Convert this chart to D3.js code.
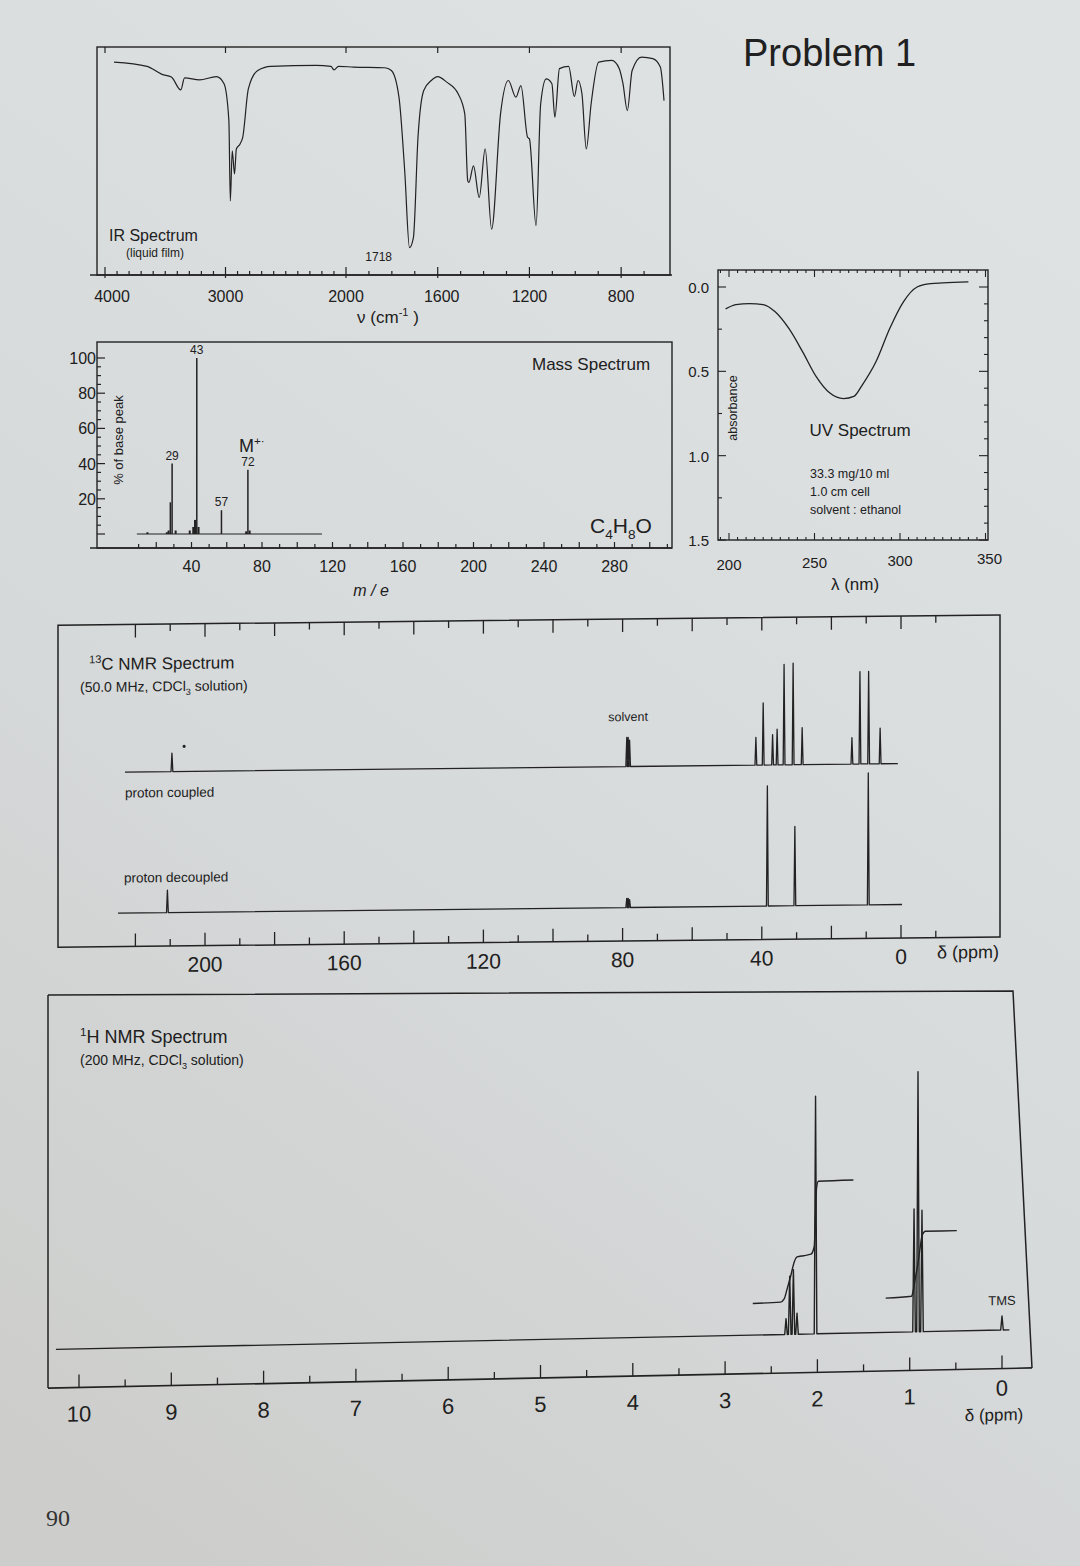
<!DOCTYPE html>
<html>
<head>
<meta charset="utf-8">
<script src="https://cdnjs.cloudflare.com/ajax/libs/d3/7.8.5/d3.min.js"></script>
<style>
  body { margin: 0; background: #d8dbdc; }
  svg { display: block; }
  text { font-family: "Liberation Sans", Arial, sans-serif; fill: #202020; }
</style>
</head>
<body>
<svg id="page"></svg>
<script>
// ---- IR spectrum (wavenumber cm-1, % transmittance)
const irWave = [3925, 3651, 3527, 3449, 3371, 3340, 3215, 3075, 3012, 2972, 2960, 2944, 2925, 2910, 2879, 2857,
  2810, 2732, 2623, 2249, 2125, 2100, 2062, 1967, 1831, 1802, 1769, 1744, 1723, 1706, 1686, 1661, 1628, 1600,
  1561, 1511, 1482, 1469, 1464, 1444, 1419, 1393, 1365, 1326, 1292, 1259, 1237, 1208, 1200, 1171, 1151, 1127,
  1102, 1089, 1069, 1029, 1004, 988, 971, 952, 931, 898, 841, 808, 792, 773, 752, 711, 662, 629, 613];
const irTrans = [93.4, 91.5, 88, 86.8, 81.2, 86.5, 85.6, 87, 83.9, 67.7, 32.5, 54.5, 44.3, 55.3, 57.5, 60.4,
  81.7, 89.7, 91.5, 91.9, 91.5, 90, 91.5, 91.2, 90.9, 89.7, 78, 45.7, 12, 16.4, 60.4, 80.9, 85.3, 87,
  84.6, 79.5, 70.7, 41.3, 40.6, 47.9, 34, 55.3, 20.1, 70.7, 85.3, 78, 83.1, 60.4, 59.7, 21.6, 75, 86,
  83.9, 69.2, 90.5, 91.5, 78.3, 85.3, 79.5, 55.3, 75, 93.4, 94.1, 90.5, 83.9, 72.1, 89.7, 95.6, 94.9, 91.2, 76.5];
const irMajor = [4000, 3000, 2000, 1600, 1200, 800];

// ---- Mass spectrum (m/e, % of base peak)
const msMass = [15, 26, 27, 28, 29, 31, 39, 41, 42, 43, 44, 57, 71, 72, 73];
const msAbund = [1, 1, 2, 18, 40, 2, 2, 4, 8, 100, 4, 13.5, 1.5, 36.5, 2];
const msLabelled = [29, 43, 57, 72];
const msTicks = [40, 80, 120, 160, 200, 240, 280];
const msRange = [9, 114];

// ---- UV spectrum (nm, absorbance)
const uvNm = [198, 204, 212, 220, 227, 235, 243, 251, 259, 267, 273, 278, 286, 294, 302, 310, 318, 325, 340];
const uvAbs = [0.13, 0.105, 0.098, 0.104, 0.147, 0.246, 0.383, 0.531, 0.629, 0.662, 0.649, 0.58, 0.442,
  0.246, 0.088, 0.0, -0.02, -0.024, -0.03];
const uvTicks = [200, 250, 300, 350];
const uvAbsTicks = [0, 0.5, 1.0, 1.5];

// ---- 13C NMR (ppm, relative height)
const cCoupledPpm = [209.5, 78.8, 78.4, 78.0, 41.7, 39.6, 36.9, 35.6, 33.6, 31.0, 28.4, 14.1, 11.8, 9.3, 6.0];
const cCoupledInt = [14, 22, 22, 20, 21, 47, 23, 27, 76, 77, 28, 20, 70, 70, 27];
const cDecoupledPpm = [210.8, 78.8, 78.4, 78.0, 38.4, 30.5, 9.4];
const cDecoupledInt = [17, 7, 7, 6, 91, 60, 100];
const cCoupledRange = [223, 0.9];
const cDecoupledRange = [225, -0.3];
const cTickLabels = [200, 160, 120, 80, 40, 0];

// ---- 1H NMR (ppm, relative height) and integrals
const hPpm = [2.340, 2.300, 2.260, 2.221, 2.02, 0.953, 0.910, 0.867, 0.0];
const hInt = [6, 22, 24.5, 8, 90, 46.5, 98.5, 46, 5.3];
const hRange = [10.25, -0.08];
const intAPpm = [2.70, 2.40, 2.36, 2.33, 2.29, 2.25, 2.22, 2.15, 2.07, 2.035, 2.02, 2.01, 1.99, 1.61];
const intAVal = [12, 12.3, 13.5, 17, 22, 27.5, 29.3, 29.7, 30.2, 33, 45, 55, 57.8, 58];
const intBPpm = [1.26, 0.98, 0.96, 0.93, 0.91, 0.89, 0.865, 0.83, 0.49];
const intBVal = [13, 13.5, 16, 22, 26, 31, 36.5, 38, 38];
const hTickLabels = [10, 9, 8, 7, 6, 5, 4, 3, 2, 1, 0];

const W = 1080, H = 1566;
const ink = "#222";
const svg = d3.select("#page").attr("width", W).attr("height", H);

const grad = svg.append("defs").append("linearGradient").attr("id", "bg")
  .attr("x1", 0.7).attr("y1", 0).attr("x2", 0.2).attr("y2", 1);
grad.append("stop").attr("offset", "0%").attr("stop-color", "#dfe2e3");
grad.append("stop").attr("offset", "55%").attr("stop-color", "#d7dadb");
grad.append("stop").attr("offset", "100%").attr("stop-color", "#cdcecc");
svg.append("rect").attr("width", W).attr("height", H).attr("fill", "url(#bg)");

// text with sub/superscripts: parts = ["plain", ["x","sup"], ["3","sub"]]
function rich(g, x, y, parts, size, anchor) {
  const t = g.append("text").attr("x", x).attr("y", y).attr("font-size", size)
    .attr("text-anchor", anchor || "start");
  let shift = 0;
  parts.forEach(p => {
    const s = typeof p === "string" ? p : p[0];
    const kind = typeof p === "string" ? "" : p[1];
    const target = kind === "sup" ? -0.4 : kind === "sub" ? 0.3 : 0;
    const ts = t.append("tspan").text(s).attr("dy", (target - shift) * size);
    if (kind) ts.attr("font-size", size * 0.65);
    shift = target;
  });
  return t;
}
function line(g, x1, y1, x2, y2, w) {
  return g.append("line").attr("x1", x1).attr("y1", y1).attr("x2", x2).attr("y2", y2)
    .attr("stroke", ink).attr("stroke-width", w || 1.2);
}
function stickPath(xScale, yAmp, base, ppm, amp, range, halfW) {
  const pts = [[xScale(range[0]), base]];
  d3.range(ppm.length).sort((a, b) => xScale(ppm[a]) - xScale(ppm[b])).forEach(i => {
    const x = xScale(ppm[i]);
    pts.push([x - halfW, base], [x, base - yAmp(amp[i])], [x + halfW, base]);
  });
  pts.push([xScale(range[1]), base]);
  return d3.line()(pts);
}

svg.append("text").attr("x", 743).attr("y", 66).attr("font-size", 38).text("Problem 1");

// ================= IR =================
const irX = d3.scaleLinear().domain([4000, 2000, 600]).range([105, 346, 667]);
const irY = d3.scaleLinear().domain([0, 100]).range([275, 47]);
const ir = svg.append("g");
ir.append("rect").attr("x", 97).attr("y", 47).attr("width", 573).attr("height", 228)
  .attr("fill", "none").attr("stroke", ink).attr("stroke-width", 1.4);
line(ir, 90, 275, 672, 275, 1.6);
ir.selectAll(".bt").data(d3.range(4000, 650, -100)).join("line")
  .attr("x1", d => irX(d)).attr("x2", d => irX(d))
  .attr("y1", d => irMajor.includes(d) ? 278 : 275).attr("y2", d => irMajor.includes(d) ? 267 : 271)
  .attr("stroke", ink).attr("stroke-width", 1.2);
ir.selectAll(".tt").data(irMajor).join("line")
  .attr("x1", d => irX(d)).attr("x2", d => irX(d)).attr("y1", 47).attr("y2", 53)
  .attr("stroke", ink).attr("stroke-width", 1.2);
ir.selectAll(".tl").data(irMajor).join("text")
  .attr("x", d => irX(d) + (d === 4000 ? 7 : d === 1600 ? 4 : 0)).attr("y", 302)
  .attr("font-size", 16).attr("text-anchor", "middle").text(d => d);
ir.append("path").datum(d3.zip(irWave, irTrans))
  .attr("d", d3.line().x(d => irX(d[0])).y(d => irY(d[1])).curve(d3.curveMonotoneX))
  .attr("fill", "none").attr("stroke", ink).attr("stroke-width", 1.2);
rich(ir, 388, 323, ["ν  (cm", ["-1", "sup"], " )"], 17, "middle");
ir.append("text").attr("x", irX(1718) - 32).attr("y", 261).attr("font-size", 12)
  .attr("text-anchor", "middle").text("1718");
ir.append("text").attr("x", 109).attr("y", 241).attr("font-size", 16).text("IR Spectrum");
ir.append("text").attr("x", 126).attr("y", 257).attr("font-size", 12).text("(liquid film)");

// ================= Mass =================
const msX = d3.scaleLinear().domain([0, 40]).range([121, 191.5]);
const msY = d3.scaleLinear().domain([0, 100]).range([534, 358]);
const ms = svg.append("g");
ms.append("rect").attr("x", 97).attr("y", 342).attr("width", 575).attr("height", 206)
  .attr("fill", "none").attr("stroke", ink).attr("stroke-width", 1.4);
line(ms, 90, 548, 672, 548, 1.6);
ms.selectAll(".bt").data(d3.range(10, 320, 10)).join("line")
  .attr("x1", d => msX(d)).attr("x2", d => msX(d)).attr("y1", 548)
  .attr("y2", d => d % 20 === 0 ? 542 : 544).attr("stroke", ink).attr("stroke-width", 1.2);
ms.selectAll(".lt").data(d3.range(0, 101, 5)).join("line")
  .attr("x1", 97).attr("x2", d => d % 20 === 0 ? 105 : 101)
  .attr("y1", d => msY(d)).attr("y2", d => msY(d)).attr("stroke", ink).attr("stroke-width", 1.2);
ms.selectAll(".yl").data([20, 40, 60, 80, 100]).join("text")
  .attr("x", 96).attr("y", d => msY(d) + 6).attr("font-size", 16).attr("text-anchor", "end").text(d => d);
ms.selectAll(".xl").data(msTicks).join("text")
  .attr("x", d => msX(d)).attr("y", 572).attr("font-size", 16).attr("text-anchor", "middle").text(d => d);
line(ms, msX(msRange[0]), msY(0), msX(msRange[1]), msY(0), 1.2);
ms.selectAll(".pk").data(d3.zip(msMass, msAbund)).join("line")
  .attr("x1", d => msX(d[0])).attr("x2", d => msX(d[0]))
  .attr("y1", msY(0)).attr("y2", d => msY(d[1]))
  .attr("stroke", ink).attr("stroke-width", d => d[1] > 10 ? 1.5 : 2);
ms.selectAll(".pl").data(msLabelled).join("text")
  .attr("x", d => msX(d)).attr("y", d => msY(msAbund[msMass.indexOf(d)]) - 4)
  .attr("font-size", 12).attr("text-anchor", "middle").text(d => d);
rich(ms, 239, 452, ["M", ["+·", "sup"]], 18, "start");
ms.append("text").attr("transform", "translate(123,440) rotate(-90)").attr("font-size", 13)
  .attr("text-anchor", "middle").text("% of base peak");
ms.append("text").attr("x", 532).attr("y", 370).attr("font-size", 17).text("Mass Spectrum");
rich(ms, 590, 533, ["C", ["4", "sub"], "H", ["8", "sub"], "O"], 21, "start");
ms.append("text").attr("x", 371).attr("y", 596).attr("font-size", 16).attr("font-style", "italic")
  .attr("text-anchor", "middle").text("m / e");

// ================= UV =================
const uvX = d3.scaleLinear().domain([200, 300]).range([729, 900]);
const uvY = d3.scaleLinear().domain([0, 1.5]).range([287, 540]);
const uv = svg.append("g");
uv.append("rect").attr("x", 718).attr("y", 270).attr("width", 270).attr("height", 270)
  .attr("fill", "none").attr("stroke", ink).attr("stroke-width", 1.4);
const nmTicks = d3.range(195, 351, 5);
uv.selectAll(".bt").data(nmTicks).join("line")
  .attr("x1", d => uvX(d)).attr("x2", d => uvX(d)).attr("y1", 540)
  .attr("y2", d => d % 50 === 0 ? 533 : 537).attr("stroke", ink).attr("stroke-width", 1.1);
uv.selectAll(".tt").data(nmTicks).join("line")
  .attr("x1", d => uvX(d)).attr("x2", d => uvX(d)).attr("y1", 270)
  .attr("y2", d => d % 50 === 0 ? 277 : 273).attr("stroke", ink).attr("stroke-width", 1.1);
uv.selectAll(".lt").data(d3.range(0, 7)).join("line")
  .attr("x1", 718).attr("x2", d => d % 2 === 0 ? 726 : 722)
  .attr("y1", d => uvY(d * 0.25)).attr("y2", d => uvY(d * 0.25)).attr("stroke", ink).attr("stroke-width", 1.1);
uv.selectAll(".rt").data(d3.range(0, 16)).join("line")
  .attr("x1", 988).attr("x2", d => d % 5 === 0 ? 979 : 984)
  .attr("y1", d => uvY(d / 10)).attr("y2", d => uvY(d / 10)).attr("stroke", ink).attr("stroke-width", 1.1);
uv.selectAll(".yl").data(uvAbsTicks).join("text")
  .attr("x", 709).attr("y", d => uvY(d) + 6).attr("font-size", 15).attr("text-anchor", "end")
  .text(d => d3.format(".1f")(d));
uv.selectAll(".xl").data(uvTicks).join("text")
  .attr("x", d => uvX(d) + (d === 350 ? 4 : 0)).attr("y", d => 570 - (d - 200) / 50 * 2)
  .attr("font-size", 15).attr("text-anchor", "middle").text(d => d);
uv.append("path").datum(d3.zip(uvNm, uvAbs))
  .attr("d", d3.line().x(d => uvX(d[0])).y(d => uvY(d[1])).curve(d3.curveMonotoneX))
  .attr("fill", "none").attr("stroke", ink).attr("stroke-width", 1.3);
uv.append("text").attr("x", 855).attr("y", 590).attr("font-size", 17).attr("text-anchor", "middle").text("λ (nm)");
uv.append("text").attr("transform", "translate(737,408) rotate(-90)").attr("font-size", 12.5)
  .attr("text-anchor", "middle").text("absorbance");
uv.append("text").attr("x", 860).attr("y", 436).attr("font-size", 17).attr("text-anchor", "middle").text("UV Spectrum");
["33.3 mg/10 ml", "1.0 cm cell", "solvent : ethanol"].forEach((s, i) =>
  uv.append("text").attr("x", 810).attr("y", 478 + i * 18).attr("font-size", 12.5).text(s));

// ================= 13C NMR =================
const cX = d3.scaleLinear().domain([0, 200]).range([901, 205]);
const cI = d3.scaleLinear().domain([0, 100]).range([0, 132]);
const skewC = -0.011;
const c13 = svg.append("g")
  .attr("transform", `translate(0,${-skewC * 540}) skewY(${Math.atan(skewC) * 180 / Math.PI})`);
c13.append("rect").attr("x", 58).attr("y", 620).attr("width", 942).attr("height", 322)
  .attr("fill", "none").attr("stroke", ink).attr("stroke-width", 1.5);
const cTicks = d3.range(220, -11, -10);
c13.selectAll(".bt").data(cTicks).join("line")
  .attr("x1", d => cX(d)).attr("x2", d => cX(d)).attr("y1", 942)
  .attr("y2", d => d % 20 === 0 && d >= 0 ? 929 : 935).attr("stroke", ink).attr("stroke-width", 1.3);
c13.selectAll(".tt").data(cTicks).join("line")
  .attr("x1", d => cX(d)).attr("x2", d => cX(d)).attr("y1", 620)
  .attr("y2", d => d % 20 === 0 ? 633 : 627).attr("stroke", ink).attr("stroke-width", 1.3);
c13.selectAll(".xl").data(cTickLabels).join("text")
  .attr("x", d => cX(d)).attr("y", 968).attr("font-size", 21).attr("text-anchor", "middle").text(d => d);
c13.append("text").attr("x", 937).attr("y", 963).attr("font-size", 18).text("δ (ppm)");
const baseCoupled = 767.5, baseDecoupled = 908.5;
c13.append("path").attr("d", stickPath(cX, cI, baseCoupled, cCoupledPpm, cCoupledInt, cCoupledRange, 0.9))
  .attr("fill", "none").attr("stroke", ink).attr("stroke-width", 1.3).attr("stroke-linejoin", "round");
c13.append("path").attr("d", stickPath(cX, cI, baseDecoupled, cDecoupledPpm, cDecoupledInt, cDecoupledRange, 0.9))
  .attr("fill", "none").attr("stroke", ink).attr("stroke-width", 1.3).attr("stroke-linejoin", "round");
c13.append("circle").attr("cx", cX(206)).attr("cy", baseCoupled - cI(19)).attr("r", 1.6).attr("fill", ink);
c13.append("text").attr("x", cX(78.4)).attr("y", 722).attr("font-size", 12.5).attr("text-anchor", "middle").text("solvent");
rich(c13, 89, 665, [["13", "sup"], "C NMR Spectrum"], 17, "start");
rich(c13, 80, 687, ["(50.0 MHz, CDCl", ["3", "sub"], " solution)"], 14, "start");
c13.append("text").attr("x", 125).attr("y", 793).attr("font-size", 13.5).text("proton coupled");
c13.append("text").attr("x", 124).attr("y", 878).attr("font-size", 13.5).text("proton decoupled");

// ================= 1H NMR =================
const hX = d3.scaleLinear().domain([10, 0]).range([79, 1002]);
const hI = d3.scaleLinear().domain([0, 100]).range([0, 264]);
const skewH = -0.0205;
const hBase = 1339.5;
svg.append("path").attr("d", "M48,995 L1013,991 L1032,1368 M48,1388 L48,995")
  .attr("fill", "none").attr("stroke", ink).attr("stroke-width", 1.5);
const h1 = svg.append("g")
  .attr("transform", `translate(0,${-skewH * 540}) skewY(${Math.atan(skewH) * 180 / Math.PI})`);
line(h1, 48, 1378, 1032, 1378, 1.6);
h1.selectAll(".bt").data(d3.range(0, 21)).join("line")
  .attr("x1", d => hX(d / 2)).attr("x2", d => hX(d / 2)).attr("y1", 1378)
  .attr("y2", d => d % 2 === 0 ? 1365 : 1371).attr("stroke", ink).attr("stroke-width", 1.3);
h1.selectAll(".xl").data(hTickLabels).join("text")
  .attr("x", d => hX(d)).attr("y", d => d === 0 ? 1405 : 1412).attr("font-size", 22)
  .attr("text-anchor", "middle").text(d => d);
h1.append("text").attr("x", hX(0) - 8).attr("y", 1430).attr("font-size", 17).attr("text-anchor", "middle").text("δ (ppm)");
h1.append("path").attr("d", stickPath(hX, hI, hBase, hPpm, hInt, hRange, 1.3))
  .attr("fill", "none").attr("stroke", ink).attr("stroke-width", 1.4).attr("stroke-linejoin", "round");
const intLine = d3.line().x(d => hX(d[0])).y(d => hBase - hI(d[1])).curve(d3.curveMonotoneX);
[[intAPpm, intAVal], [intBPpm, intBVal]].forEach(([p, v]) =>
  h1.append("path").datum(d3.zip(p, v)).attr("d", intLine)
    .attr("fill", "none").attr("stroke", ink).attr("stroke-width", 1.4));
h1.append("text").attr("x", hX(0)).attr("y", hBase - hI(5.3) - 11).attr("font-size", 13)
  .attr("text-anchor", "middle").text("TMS");
rich(svg, 80, 1043, [["1", "sup"], "H NMR Spectrum"], 18, "start");
rich(svg, 80, 1065, ["(200 MHz, CDCl", ["3", "sub"], " solution)"], 14, "start");

svg.append("text").attr("x", 58).attr("y", 1526).attr("font-size", 24).attr("text-anchor", "middle")
  .style("font-family", "'Liberation Serif', 'Times New Roman', serif").style("fill", "#333").text("90");
</script>
</body>
</html>
